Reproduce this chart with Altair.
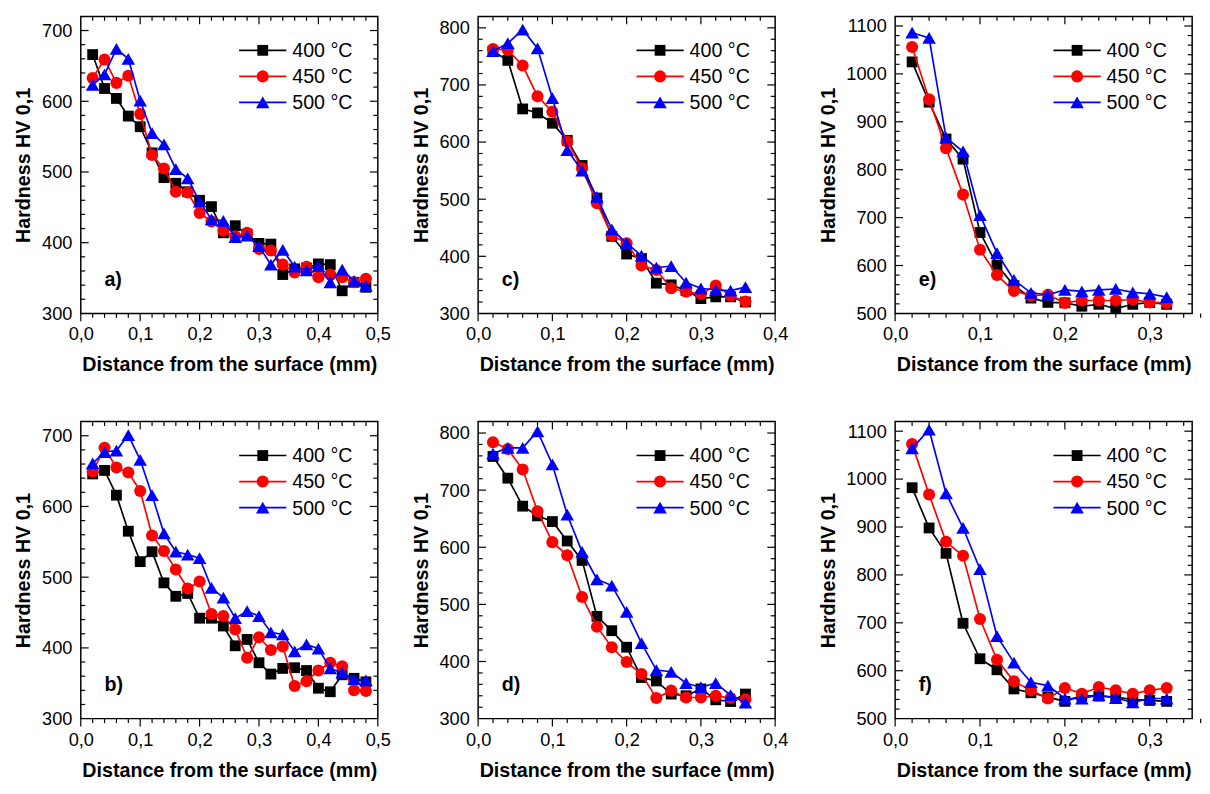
import altair as alt
import pandas as pd

SERIES = ["400 °C", "450 °C", "500 °C"]
COLORS = ["#000000", "#ff0000", "#0000ff"]
SHAPES = ["square", "circle", "triangle-up"]
SIZES = [121, 150, 190]

dist_ab = [0.02, 0.04, 0.06, 0.08, 0.10, 0.12, 0.14, 0.16, 0.18, 0.20, 0.22, 0.24,
           0.26, 0.28, 0.30, 0.32, 0.34, 0.36, 0.38, 0.40, 0.42, 0.44, 0.46, 0.48]
dist_cd = [0.02, 0.04, 0.06, 0.08, 0.10, 0.12, 0.14, 0.16, 0.18, 0.20, 0.22, 0.24,
           0.26, 0.28, 0.30, 0.32, 0.34, 0.36]
dist_ef = [0.02, 0.04, 0.06, 0.08, 0.10, 0.12, 0.14, 0.16, 0.18, 0.20, 0.22, 0.24,
           0.26, 0.28, 0.30, 0.32]

a_400 = [666, 618, 604, 579, 564, 527, 492, 484, 472, 460, 451, 414, 424, 412, 399, 398, 355, 363, 364, 370, 369, 332, 344, 337]
a_450 = [633, 659, 626, 636, 582, 524, 505, 472, 471, 442, 430, 417, 409, 414, 391, 389, 369, 358, 366, 351, 355, 351, 344, 349]
a_500 = [623, 638, 674, 660, 601, 555, 539, 504, 491, 458, 433, 431, 408, 410, 395, 369, 390, 366, 361, 367, 344, 362, 346, 339]

b_400 = [646, 651, 616, 565, 522, 536, 492, 473, 477, 442, 442, 431, 403, 412, 379, 363, 371, 372, 368, 343, 338, 362, 357, 352]
b_450 = [649, 683, 655, 648, 622, 559, 537, 511, 484, 494, 448, 445, 426, 386, 415, 397, 402, 346, 353, 368, 379, 374, 340, 339]
b_500 = [661, 677, 679, 701, 666, 616, 562, 536, 532, 527, 485, 471, 442, 452, 445, 422, 419, 395, 405, 399, 371, 365, 356, 354]

c_400 = [759, 743, 658, 651, 633, 603, 559, 502, 435, 404, 396, 353, 350, 340, 326, 329, 329, 320]
c_450 = [763, 761, 734, 680, 653, 601, 554, 493, 437, 423, 384, 376, 344, 338, 334, 349, 331, 321]
c_500 = [759, 773, 797, 764, 677, 586, 550, 504, 447, 423, 401, 380, 383, 354, 344, 341, 340, 346]

d_400 = [759, 721, 672, 655, 645, 611, 577, 479, 454, 425, 372, 366, 343, 340, 352, 333, 330, 343]
d_450 = [784, 772, 736, 663, 609, 586, 513, 461, 425, 399, 378, 336, 349, 337, 337, 340, 336, 334]
d_500 = [764, 774, 774, 803, 745, 657, 592, 544, 533, 487, 432, 385, 382, 362, 355, 362, 341, 328]

e_400 = [1025, 941, 864, 822, 669, 601, 558, 532, 523, 522, 515, 519, 510, 519, 523, 519]
e_450 = [1056, 947, 845, 748, 633, 580, 547, 537, 539, 522, 527, 527, 527, 529, 523, 522]
e_500 = [1086, 1075, 867, 838, 705, 626, 570, 543, 539, 549, 546, 549, 551, 544, 541, 534]

f_400 = [982, 898, 845, 699, 625, 602, 562, 554, 545, 536, 548, 547, 545, 540, 538, 536]
f_450 = [1073, 968, 869, 840, 708, 623, 578, 559, 542, 564, 552, 566, 559, 552, 559, 564]
f_500 = [1064, 1103, 970, 898, 812, 672, 617, 576, 569, 542, 542, 549, 543, 534, 542, 542]

X_TITLE = "Distance from the surface (mm)"
Y_TITLE = "Hardness HV 0,1"
FONT = "Liberation Sans"
W, H = 302, 302
MAJ, MIN = 8, 4.5


def panel(label, dist, series_vals, xmax, ymin, ymax):
    nx = int(round(xmax / 0.02))
    x_all = [round(i * 0.02, 2) for i in range(0, nx + 1)]
    x_maj = [v for v in x_all if abs(v * 10 - round(v * 10)) < 1e-6]
    x_min = [v for v in x_all if v not in x_maj]
    y_all = list(range(ymin, ymax + 1, 20))
    y_maj = [v for v in y_all if v % 100 == 0]
    y_min = [v for v in y_all if v % 100 != 0]

    xaxis = alt.Axis(values=x_maj, labelExpr="replace(format(datum.value, '.1f'), '.', ',')",
                     title=X_TITLE, labelPadding=12, titlePadding=12, labelFlush=False,
                     labelOverlap=False)
    yaxis = alt.Axis(values=y_maj, format="d", title=Y_TITLE, labelPadding=9,
                     titlePadding=8, labelOverlap=False)
    xs = alt.Scale(domain=[0, xmax], nice=False, zero=False)
    ys = alt.Scale(domain=[ymin, ymax], nice=False, zero=False)

    def X():
        return alt.X("x:Q", scale=xs, axis=xaxis)

    def Y():
        return alt.Y("y:Q", scale=ys, axis=yaxis)

    layers = []
    # tick marks
    for vals, ln in ((y_maj, MAJ), (y_min, MIN)):
        inner = [v for v in vals if ymin < v < ymax]
        d = pd.DataFrame({"y": inner})
        layers.append(alt.Chart(d).mark_rule(color="black", strokeWidth=1.2).encode(
            y=Y(), x=alt.value(0), x2=alt.value(ln)))
        layers.append(alt.Chart(d).mark_rule(color="black", strokeWidth=1.2).encode(
            y=Y(), x=alt.value(W - ln), x2=alt.value(W)))
    for vals, ln in ((x_maj, MAJ), (x_min, MIN)):
        inner = [v for v in vals if 0 < v < xmax]
        d_in = pd.DataFrame({"x": inner})
        d_all = pd.DataFrame({"x": vals})
        layers.append(alt.Chart(d_in).mark_rule(color="black", strokeWidth=1.2).encode(
            x=X(), y=alt.value(0), y2=alt.value(ln)))
        layers.append(alt.Chart(d_all).mark_rule(color="black", strokeWidth=1.2).encode(
            x=X(), y=alt.value(H), y2=alt.value(H + ln)))

    # data series
    for name, vals, col, shp, sz in zip(SERIES, series_vals, COLORS, SHAPES, SIZES):
        df = pd.DataFrame({"x": dist, "y": vals, "series": name})
        layers.append(alt.Chart(df).mark_line(color=col, strokeWidth=1.7).encode(x=X(), y=Y()))
        layers.append(alt.Chart(df).mark_point(shape=shp, filled=True, size=sz, color=col,
                                               opacity=1).encode(x=X(), y=Y()))

    # legend
    for i, (name, col, shp, sz) in enumerate(zip(SERIES, COLORS, SHAPES, SIZES)):
        ly = 34.5 + i * 26.5
        ld = pd.DataFrame({"label": [name]})
        layers.append(alt.Chart(ld).mark_rule(color=col, strokeWidth=1.7).encode(
            x=alt.value(161), x2=alt.value(209), y=alt.value(ly)))
        layers.append(alt.Chart(ld).mark_point(shape=shp, filled=True, size=sz, color=col,
                                               opacity=1).encode(x=alt.value(185), y=alt.value(ly)))
        layers.append(alt.Chart(ld).mark_text(align="left", baseline="middle", font=FONT,
                                              fontSize=20, color="black").encode(
            x=alt.value(215), y=alt.value(ly + 1), text="label:N"))

    pl = pd.DataFrame({"label": [label]})
    layers.append(alt.Chart(pl).mark_text(align="left", baseline="middle", font=FONT,
                                          fontSize=20, fontWeight="bold", color="black").encode(
        x=alt.value(24), y=alt.value(268), text="label:N"))

    return alt.layer(*layers).properties(width=W, height=H)


pa = panel("a)", dist_ab, [a_400, a_450, a_500], 0.5, 300, 720)
pb = panel("b)", dist_ab, [b_400, b_450, b_500], 0.5, 300, 720)
pc = panel("c)", dist_cd, [c_400, c_450, c_500], 0.4, 300, 820)
pd_ = panel("d)", dist_cd, [d_400, d_450, d_500], 0.4, 300, 820)
pe = panel("e)", dist_ef, [e_400, e_450, e_500], 0.35, 500, 1120)
pf = panel("f)", dist_ef, [f_400, f_450, f_500], 0.35, 500, 1120)

top = alt.hconcat(alt.hconcat(pa, pc, spacing=19), pe, spacing=29)
bottom = alt.hconcat(alt.hconcat(pb, pd_, spacing=19), pf, spacing=29)

chart = alt.vconcat(top, bottom, spacing=44).properties(
    background="white",
    padding={"top": 0, "left": 5, "right": 0, "bottom": 0},
).configure_view(
    stroke="black", strokeWidth=1.5
).configure_axis(
    grid=False, domain=False, ticks=False, tickSize=0,
    labelFont=FONT, labelFontSize=18.5, labelColor="black",
    titleFont=FONT, titleFontSize=20, titleFontWeight="bold", titleColor="black"
)

chart.save("out.html", embed_options={"renderer": "svg", "actions": False})
